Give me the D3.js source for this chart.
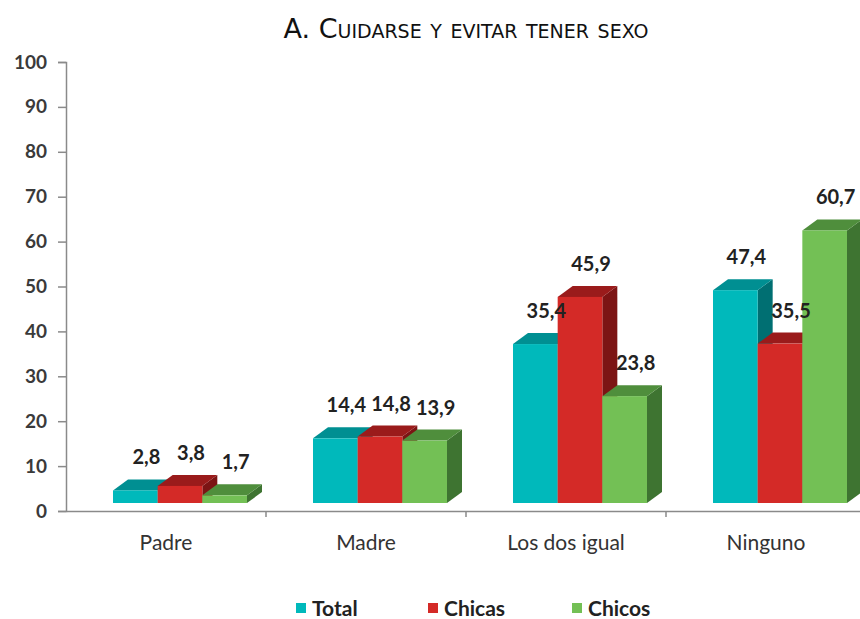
<!DOCTYPE html>
<html>
<head>
<meta charset="utf-8">
<script src="https://cdn.jsdelivr.net/npm/d3@7"></script>
<style>
  body { margin: 0; background: #fff; }
  svg { display: block; }
</style>
</head>
<body>
<svg id="chart"></svg>
<script>
const categories = ["Padre", "Madre", "Los dos igual", "Ninguno"]
const seriesNames = ["Total", "Chicas", "Chicos"]
const totalValues = [2.8, 14.4, 35.4, 47.4]
const chicasValues = [3.8, 14.8, 45.9, 35.5]
const chicosValues = [1.7, 13.9, 23.8, 60.7]
const yTicks = [0, 10, 20, 30, 40, 50, 60, 70, 80, 90, 100]

// front, top, side colours per series
const colors = {
  Total: ["#00b9bb", "#008f92", "#006f72"],
  Chicas: ["#d42a27", "#9a1b1b", "#7c1414"],
  Chicos: ["#73c055", "#4f8e3c", "#3e7431"]
}

const width = 860, height = 619
const svg = d3.select("#chart").attr("width", width).attr("height", height)

const seriesValues = [totalValues, chicasValues, chicosValues]
const data = categories.map((c, i) => ({
  cat: c,
  bars: seriesNames.map((s, j) => ({series: s, value: seriesValues[j][i]}))
}))

// scales
const yScale = d3.scaleLinear().domain([0, 100]).range([511, 62])
const xScale = d3.scaleBand().domain(categories).range([66, 866])
const xSub = d3.scaleBand().domain(seriesNames).range([47, 181])
const depthX = 15, depthY = 11, floor = 8
const font = "Lato, 'Open Sans', sans-serif"

// title
svg.append("text")
  .attr("x", 466).attr("y", 38)
  .attr("text-anchor", "middle")
  .style("font-family", "'DejaVu Sans', sans-serif")
  .style("font-variant", "small-caps")
  .style("font-size", "27px")
  .attr("fill", "#111")
  .text("A. Cuidarse y evitar tener sexo")

// y-axis
const yAxis = svg.append("g")
  .attr("transform", "translate(66,0)")
  .call(d3.axisLeft(yScale).tickValues(yTicks).tickSize(8).tickPadding(11))
yAxis.select(".domain").attr("stroke", "#8a8a8a").attr("stroke-width", 1.5)
yAxis.selectAll(".tick line").attr("stroke", "#8a8a8a").attr("stroke-width", 1.5)
yAxis.selectAll("text")
  .style("font-family", font).style("font-weight", "bold").style("font-size", "19px")
  .attr("fill", "#3a3a3a")

// x-axis
const xAxis = svg.append("g")
  .attr("transform", `translate(0,${yScale(0)})`)
  .call(d3.axisBottom(xScale).tickSize(0).tickPadding(24))
xAxis.select(".domain").attr("stroke", "#8a8a8a").attr("stroke-width", 1.5)
xAxis.selectAll("text")
  .style("font-family", font).style("font-size", "21px")
  .attr("fill", "#333")
// separators between categories
svg.append("g").selectAll("line")
  .data(categories.slice(1))
  .enter().append("line")
  .attr("x1", d => xScale(d)).attr("x2", d => xScale(d))
  .attr("y1", yScale(0)).attr("y2", yScale(0) + 6)
  .attr("stroke", "#8a8a8a").attr("stroke-width", 1.5)

// 3d bars
const bottom = yScale(0) - floor
const groups = svg.selectAll(".group")
  .data(data)
  .enter().append("g")
  .attr("class", "group")
  .attr("transform", d => `translate(${xScale(d.cat)},0)`)

groups.each(function(d) {
  const g = d3.select(this)
  d.bars.forEach(b => {
    const x = xSub(b.series), w = xSub.bandwidth()
    const top = yScale(b.value) - floor
    const c = colors[b.series]
    // side
    g.append("path")
      .attr("d", `M${x + w},${top} L${x + w + depthX},${top - depthY} L${x + w + depthX},${bottom - depthY} L${x + w},${bottom} Z`)
      .attr("fill", c[2])
    // top
    g.append("path")
      .attr("d", `M${x},${top} L${x + depthX},${top - depthY} L${x + w + depthX},${top - depthY} L${x + w},${top} Z`)
      .attr("fill", c[1])
    // front
    g.append("rect")
      .attr("x", x).attr("y", top)
      .attr("width", w).attr("height", bottom - top)
      .attr("fill", c[0])
  })
})

// value labels
groups.each(function(d) {
  const g = d3.select(this)
  d.bars.forEach(b => {
    const x = xSub(b.series) + xSub.bandwidth() / 2 + 11
    const top = yScale(b.value) - floor
    g.append("text")
      .attr("x", x).attr("y", top - 26)
      .attr("text-anchor", "middle")
      .style("font-family", font).style("font-weight", "bold").style("font-size", "20px")
      .attr("fill", "#222")
      .text(d3.format(".1f")(b.value).replace(".", ","))
  })
})

// legend
const legendX = [296, 428, 572]
const legend = svg.append("g").selectAll("g")
  .data(seriesNames)
  .enter().append("g")
  .attr("transform", (d, i) => `translate(${legendX[i]},603)`)
legend.append("rect")
  .attr("width", 10).attr("height", 10)
  .attr("fill", d => colors[d][0])
legend.append("text")
  .attr("x", 16).attr("y", 13)
  .style("font-family", font).style("font-weight", "bold").style("font-size", "21px")
  .attr("fill", "#222")
  .text(d => d)
</script>
</body>
</html>
